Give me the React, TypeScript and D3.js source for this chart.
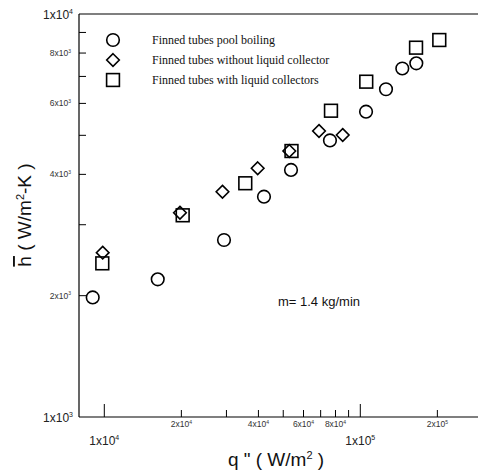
import React from "react";
import * as d3 from "d3";

// Data (q in W/m², h in W/m²-K)
const poolQ = [9010, 16170, 29350, 42050, 53620, 76120, 105300, 126000, 145900, 165500];
const poolH = [1980, 2196, 2749, 3521, 4102, 4855, 5722, 6505, 7325, 7546];

const noCollQ = [9857, 19750, 28950, 39730, 52800, 68980, 85370];
const noCollH = [2557, 3213, 3623, 4142, 4571, 5126, 5010];

const collQ = [9822, 20240, 35540, 53860, 76820, 105500, 165100, 203500];
const collH = [2406, 3166, 3802, 4571, 5754, 6793, 8250, 8619];

const legendLabels = [
  "Finned tubes pool boiling",
  "Finned tubes without liquid collector",
  "Finned tubes with liquid collectors",
];

const xMinorTicks = [2e4, 3e4, 4e4, 5e4, 6e4, 7e4, 8e4, 9e4, 2e5];
const xMajorTicks = [1e4, 1e5];
const xSmallLabels: [number, string, string][] = [
  [2e4, "2x10", "4"],
  [4e4, "4x10", "4"],
  [6e4, "6x10", "4"],
  [8e4, "8x10", "4"],
  [2e5, "2x10", "5"],
];
const xBigLabels: [number, string, string][] = [
  [1e4, "1x10", "4"],
  [1e5, "1x10", "5"],
];

const yTicks = [2e3, 3e3, 4e3, 5e3, 6e3, 7e3, 8e3, 9e3];
const ySmallLabels: [number, string, string][] = [
  [2e3, "2x10", "3"],
  [4e3, "4x10", "3"],
  [6e3, "6x10", "3"],
  [8e3, "8x10", "3"],
];
const yBigLabels: [number, string, string][] = [
  [1e3, "1x10", "3"],
  [1e4, "1x10", "4"],
];

const annotation = "m= 1.4 kg/min";

const W = 478;
const H = 472;
const plotLeft = 79;
const plotRight = 478;
const plotTop = 14;
const plotBottom = 417;

const x = d3.scaleLog().domain([1e4, 1e5]).range([104.3, 360.3]);
const y = d3.scaleLog().domain([1e3, 1e4]).range([plotBottom, plotTop]);

const sans = "Arial, 'Liberation Sans', sans-serif";
const serif = "'Times New Roman', 'Liberation Serif', serif";

const R = 6.3;
const SW = 1.6;

function Circle({ cx, cy }: { cx: number; cy: number }) {
  return <circle cx={cx} cy={cy} r={R} fill="none" stroke="#000" strokeWidth={SW} />;
}
function Diamond({ cx, cy }: { cx: number; cy: number }) {
  const s = 6.3;
  return (
    <path
      d={`M${cx},${cy - s}L${cx + s},${cy}L${cx},${cy + s}L${cx - s},${cy}Z`}
      fill="none"
      stroke="#000"
      strokeWidth={SW}
    />
  );
}
function Square({ cx, cy }: { cx: number; cy: number }) {
  const s = 6.4;
  return <rect x={cx - s} y={cy - s} width={2 * s} height={2 * s} fill="none" stroke="#000" strokeWidth={SW} />;
}

export default function App() {
  const legendYs = [40, 60, 80];
  return (
    <svg width={W} height={H} style={{ position: "absolute", left: 0, top: 0, background: "#fff" }}>
      {/* axes */}
      <line x1={plotLeft} x2={plotRight} y1={plotTop} y2={plotTop} stroke="#555" strokeWidth={1.3} />
      <line x1={plotLeft} x2={plotLeft} y1={plotTop} y2={plotBottom} stroke="#000" strokeWidth={1.2} />
      <line x1={plotLeft} x2={plotRight} y1={plotBottom} y2={plotBottom} stroke="#000" strokeWidth={1.2} />

      {/* x ticks */}
      {xMinorTicks.map((t) => (
        <line key={"xm" + t} x1={x(t)} x2={x(t)} y1={plotBottom} y2={plotBottom - 7} stroke="#000" strokeWidth={1} />
      ))}
      {xMajorTicks.map((t) => (
        <line key={"xM" + t} x1={x(t)} x2={x(t)} y1={plotBottom} y2={plotBottom - 13} stroke="#000" strokeWidth={1} />
      ))}
      {xSmallLabels.map(([v, a, e]) => (
        <text key={"xl" + v} x={x(v)} y={427} textAnchor="middle" fontFamily={sans} fontSize={8.5} fill="#333">
          {a}
          <tspan fontSize={5} dy={-3.5}>{e}</tspan>
        </text>
      ))}
      {xBigLabels.map(([v, a, e]) => (
        <text key={"xb" + v} x={x(v)} y={444.5} textAnchor="middle" fontFamily={sans} fontSize={12} fill="#222">
          {a}
          <tspan fontSize={7} dy={-5}>{e}</tspan>
        </text>
      ))}

      {/* y ticks */}
      {yTicks.map((t) => (
        <line key={"yt" + t} x1={plotLeft} x2={plotLeft + 7} y1={y(t)} y2={y(t)} stroke="#000" strokeWidth={1} />
      ))}
      {ySmallLabels.map(([v, a, e]) => (
        <text key={"yl" + v} x={71} y={y(v) + 3} textAnchor="end" fontFamily={sans} fontSize={8.5} fill="#333">
          {a}
          <tspan fontSize={5} dy={-3.5}>{e}</tspan>
        </text>
      ))}
      {yBigLabels.map(([v, a, e]) => (
        <text key={"yb" + v} x={73} y={y(v) + 4.5} textAnchor="end" fontFamily={sans} fontSize={12} fill="#222">
          {a}
          <tspan fontSize={7} dy={-5}>{e}</tspan>
        </text>
      ))}

      {/* data */}
      {poolQ.map((q, i) => (
        <Circle key={"c" + i} cx={x(q)} cy={y(poolH[i])} />
      ))}
      {noCollQ.map((q, i) => (
        <Diamond key={"d" + i} cx={x(q)} cy={y(noCollH[i])} />
      ))}
      {collQ.map((q, i) => (
        <Square key={"s" + i} cx={x(q)} cy={y(collH[i])} />
      ))}

      {/* legend */}
      <Circle cx={113} cy={legendYs[0]} />
      <Diamond cx={113} cy={legendYs[1]} />
      <Square cx={113} cy={legendYs[2]} />
      {legendLabels.map((l, i) => (
        <text key={l} x={152} y={legendYs[i] + 4} fontFamily={serif} fontSize={12} fill="#111">
          {l}
        </text>
      ))}

      {/* annotation */}
      <text x={278} y={306} fontFamily={sans} fontSize={13} fill="#111">
        {annotation}
      </text>

      {/* axis titles */}
      <text x={276} y={466} textAnchor="middle" fontFamily={sans} fontSize={19} fill="#111">
        q " ( W/m
        <tspan fontSize={11} dy={-7}>2</tspan>
        <tspan dy={7}> )</tspan>
      </text>
      <g transform="translate(31,215) rotate(-90)">
        <text x={0} y={0} textAnchor="middle" fontFamily={sans} fontSize={19} fill="#111">
          <tspan style={{ textDecoration: "overline" }}>h</tspan>
          {" ( W/m"}
          <tspan fontSize={11} dy={-7}>2</tspan>
          <tspan dy={7}>-K )</tspan>
        </text>
      </g>
    </svg>
  );
}
